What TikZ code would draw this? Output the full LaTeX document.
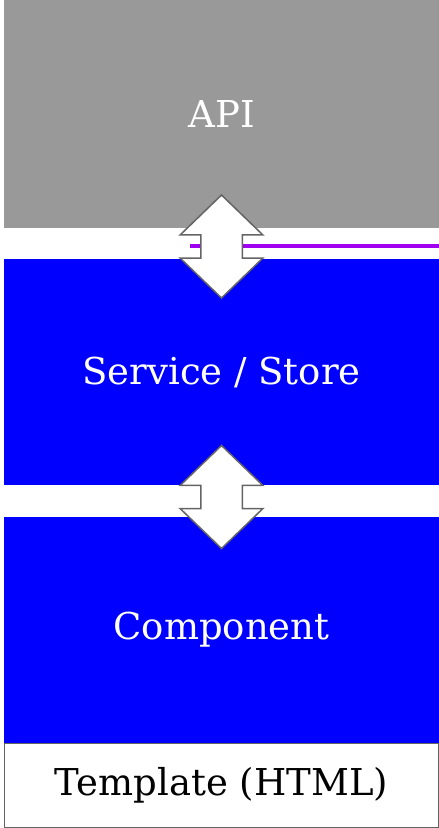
\documentclass[tikz,border=0pt]{standalone}
\usepackage{fontspec}
\setmainfont{DejaVu Serif}
\usepackage{tikz}
\usetikzlibrary{shapes,arrows,positioning,calc}

\definecolor{apigray}{RGB}{153,153,153}
\definecolor{layerblue}{RGB}{0,0,255}
\definecolor{linkpurple}{RGB}{160,0,240}
\definecolor{arrowedge}{RGB}{100,100,100}

\begin{document}
\begin{tikzpicture}[x=1pt, y=1pt]
		\tikzstyle{Layer}	= [rectangle, minimum width=435pt, inner sep=0pt, outer sep=0pt, font=\fontsize{37}{44}\selectfont]
		\tikzstyle{Backend}	= [Layer, fill=apigray, text=white, minimum height=228pt]
		\tikzstyle{Front}	= [Layer, fill=layerblue, text=white, minimum height=226pt]
		\tikzstyle{View}	= [Layer, fill=white, draw=arrowedge, line width=1pt, minimum height=84pt]
		\tikzstyle{Flow}	= [double arrow, draw=arrowedge, fill=white, line width=1.5pt, rotate=90,
							   minimum height=103pt, minimum width=81pt, inner xsep=0pt, inner ysep=20pt,
							   double arrow head extend=20.5pt, double arrow tip angle=92]
		\tikzstyle{Wire}	= [linkpurple, line width=4pt]

		\useasboundingbox (0,0) rectangle (439,-828);

		% layers
		\node (api) at (221.5,-114) [Backend] {API};
		\node (store) [Front, below=31pt of api] {Service / Store};
		\node (comp) [Front, below=32pt of store] {Component};
		\node (tmpl) [View, below=0pt of comp, minimum width=434pt] {Template (HTML)};

		% link line in the gap
		\coordinate (w1) at (190,-246);
		\coordinate (w2) at (439,-246);
		\draw[Wire] (w1) -- (w2);

		% data flow
		\node (f1) at ($(api.south)!0.5!(store.north)+(0,-3)$) [Flow] {};
		\node (f2) at ($(store.south)!0.5!(comp.north)+(0,4)$) [Flow] {};
	\end{tikzpicture}
\end{document}
